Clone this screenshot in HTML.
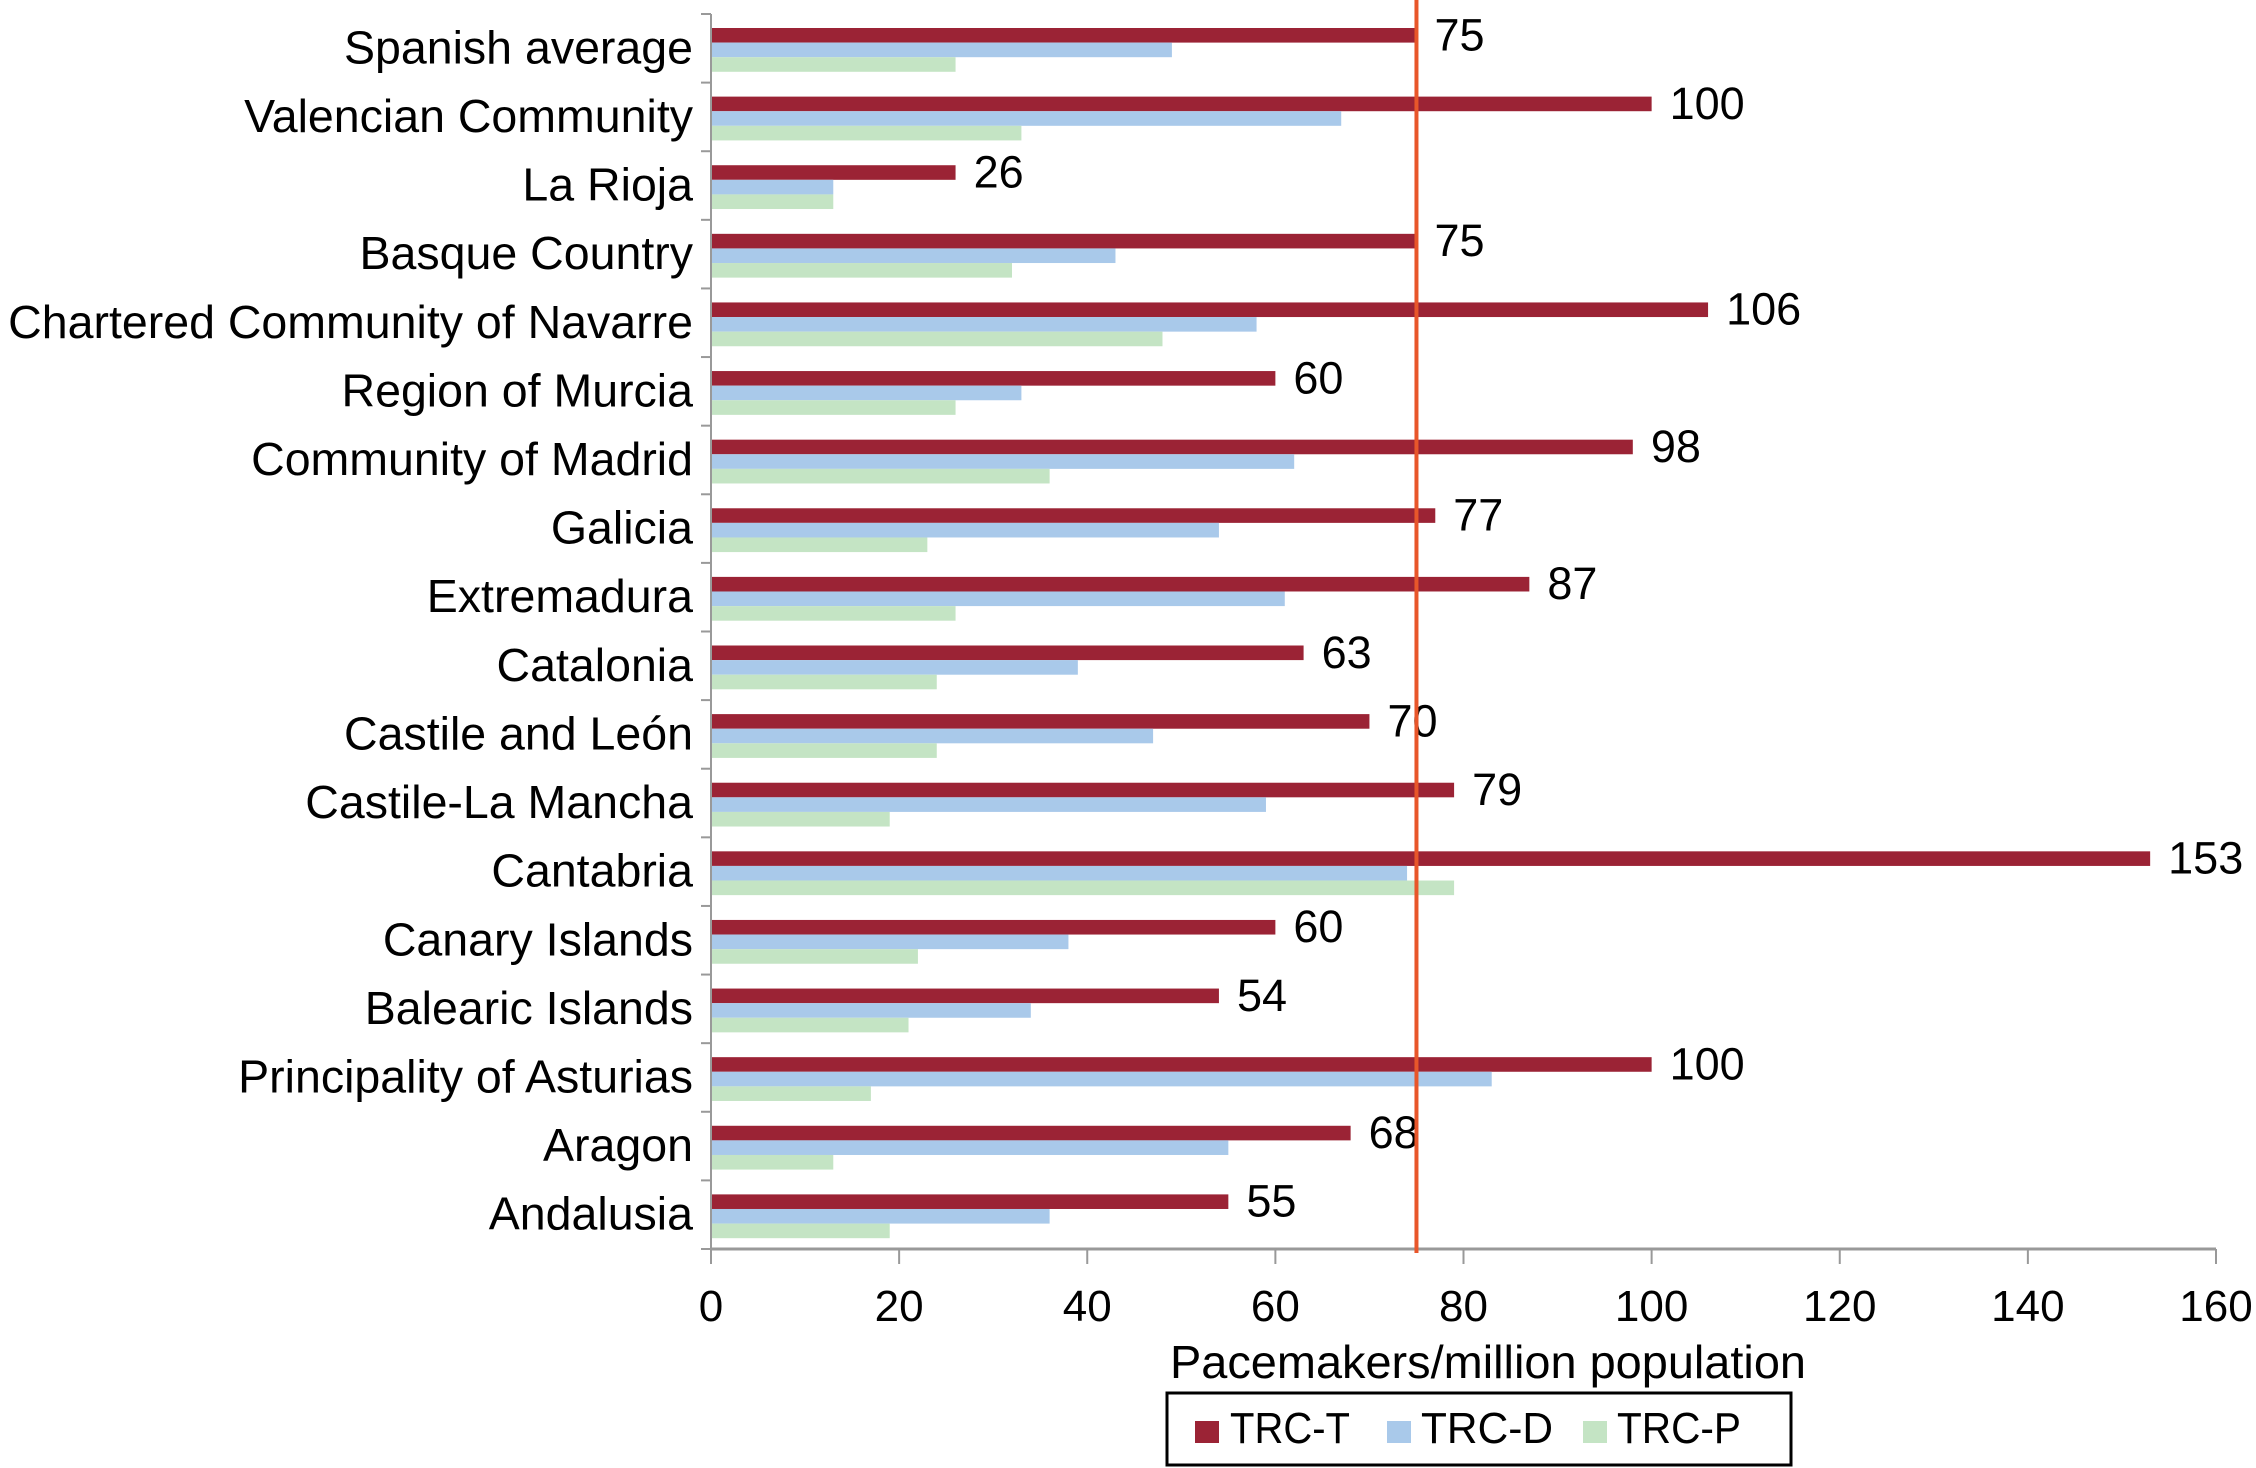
<!DOCTYPE html>
<html><head><meta charset="utf-8"><style>
html,body{margin:0;padding:0;background:#fff;}
svg{display:block;font-family:"Liberation Sans",Arial,sans-serif;}
</style></head><body>
<svg id="chart" width="2256" height="1468" viewBox="0 0 2256 1468"></svg>
<script>
const categories=["Spanish average","Valencian Community","La Rioja","Basque Country","Chartered Community of Navarre","Region of Murcia","Community of Madrid","Galicia","Extremadura","Catalonia","Castile and León","Castile-La Mancha","Cantabria","Canary Islands","Balearic Islands","Principality of Asturias","Aragon","Andalusia"];
const trcT=[75,100,26,75,106,60,98,77,87,63,70,79,153,60,54,100,68,55];
const trcD=[49,67,13,43,58,33,62,54,61,39,47,59,74,38,34,83,55,36];
const trcP=[26,33,13,32,48,26,36,23,26,24,24,19,79,22,21,17,13,19];
const xTicks=[0,20,40,60,80,100,120,140,160];
const refValue=75;

const NS="http://www.w3.org/2000/svg";
const svg=document.getElementById('chart');
const X0=711,X1=2216,XMAX=160,YTOP=14,YBOT=1249;
const band=(YBOT-YTOP)/categories.length;
const xs=v=>X0+(X1-X0)*v/XMAX;
function mk(tag,attrs,text){const e=document.createElementNS(NS,tag);for(const k in attrs)e.setAttribute(k,attrs[k]);if(text!==undefined)e.textContent=text;svg.appendChild(e);return e;}
const series=[[trcT,"#9b2335","trc-t"],[trcD,"#a9c9ea","trc-d"],[trcP,"#c4e4c4","trc-p"]];
const bh=14.6;
categories.forEach((c,i)=>{
  const y0=YTOP+i*band;
  const t=mk('text',{x:693,y:y0+band/2+15,'text-anchor':'end','font-size':46.5,fill:'#000'},c);
  
  
  series.forEach((s,j)=>{
    const r=mk('rect',{x:X0,y:y0+14+j*bh,width:xs(s[0][i])-X0,height:bh,fill:s[1]});
    
    
  });
  const v=mk('text',{x:xs(trcT[i])+18,y:y0+14+bh/2+15,'font-size':45,fill:'#000'},String(trcT[i]));
  
  
  const tk=mk('line',{x1:X0-10,x2:X0,y1:y0,y2:y0,stroke:'#999','stroke-width':2});
  
  
});
const lt=mk('line',{x1:X0-10,x2:X0,y1:YBOT,y2:YBOT,stroke:'#999','stroke-width':2});


const ya=mk('line',{x1:X0,x2:X0,y1:YTOP,y2:YBOT,stroke:'#999','stroke-width':2});


const xa=mk('line',{x1:X0,x2:X1,y1:YBOT,y2:YBOT,stroke:'#999','stroke-width':3});


xTicks.forEach(v=>{
  const l=mk('line',{x1:xs(v),x2:xs(v),y1:YBOT,y2:YBOT+15,stroke:'#999','stroke-width':2});
  
  
  const t=mk('text',{x:xs(v),y:1321,'text-anchor':'middle','font-size':44,fill:'#000'},String(v));
  
  
});
const ref=mk('line',{x1:xs(refValue),x2:xs(refValue),y1:0,y2:1253,stroke:'#e8562a','stroke-width':4});


</script>
<svg style="position:absolute;left:0;top:0" width="2256" height="1468">
<text x="1488" y="1378" text-anchor="middle" font-size="46" textLength="636" lengthAdjust="spacingAndGlyphs" font-family="Liberation Sans, sans-serif">Pacemakers/million population</text>
<g>
<rect x="1167" y="1393" width="624" height="72" fill="#fff" stroke="#000" stroke-width="3"/>
<rect x="1195" y="1421" width="24" height="22" fill="#9b2335"/>
<text x="1230" y="1443" font-size="44" textLength="120" lengthAdjust="spacingAndGlyphs" font-family="Liberation Sans, sans-serif">TRC-T</text>
<rect x="1387" y="1421" width="24" height="22" fill="#a9c9ea"/>
<text x="1421" y="1443" font-size="44" textLength="132" lengthAdjust="spacingAndGlyphs" font-family="Liberation Sans, sans-serif">TRC-D</text>
<rect x="1583" y="1421" width="24" height="22" fill="#c4e4c4"/>
<text x="1617" y="1443" font-size="44" textLength="124" lengthAdjust="spacingAndGlyphs" font-family="Liberation Sans, sans-serif">TRC-P</text>
</g>
</svg>
</body></html>
